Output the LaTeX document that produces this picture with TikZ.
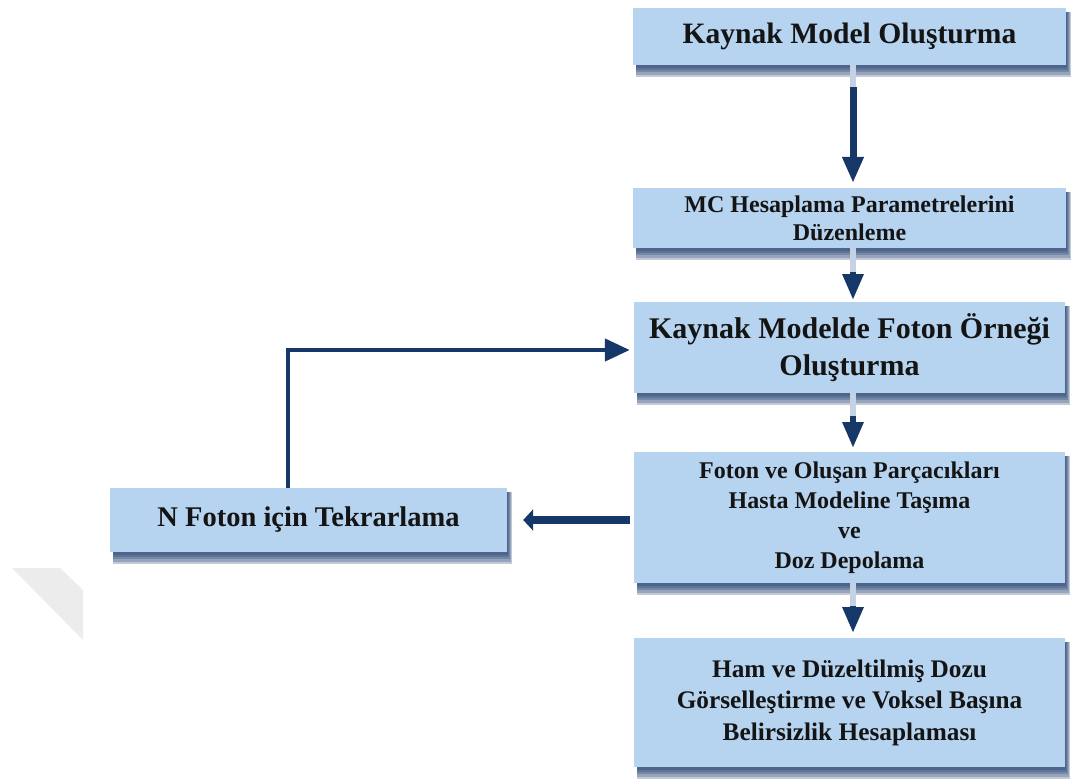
\documentclass[tikz,border=0pt]{standalone}
\usepackage{fontspec}
\setmainfont{Liberation Serif}
\usetikzlibrary{arrows.meta,backgrounds}
\definecolor{boxfill}{RGB}{182,212,240}
\definecolor{navy}{RGB}{22,56,104}
\definecolor{shadowcol}{RGB}{30,60,110}
\definecolor{paleline}{RGB}{196,210,228}
\definecolor{wmark}{RGB}{236,236,236}
\tikzset{
  stepbox/.style={fill=boxfill, draw=none, inner sep=0pt, align=center,
    text=black!92},
  fsz/.style 2 args={font=\bfseries\fontsize{#1}{#2}\selectfont},
  flowarrow/.style={draw=navy, line width=7pt,
    -{Triangle[width=20pt,length=26pt]}},
  paleshaft/.style={draw=paleline, line width=6pt},
  loopline/.style={draw=navy, line width=4.5pt},
}
\begin{document}
\begin{tikzpicture}[x=1pt,y=-1pt]
\useasboundingbox (0,0) rectangle (1072,781);
% watermark shape
\fill[wmark] (12,568) -- (60,568) -- (83,590) -- (83,640) -- cycle;

\node[stepbox, fsz={29.6}{35}, minimum width=433pt, minimum height=57pt] (b1) at (849.5,36.5)
  {Kaynak Model Oluşturma};
\node[stepbox, fsz={24}{28}, minimum width=433pt, minimum height=60pt] (b2) at (849.5,218)
  {MC Hesaplama Parametrelerini\\Düzenleme};
\node[stepbox, fsz={30}{37}, minimum width=431pt, minimum height=91pt] (b3) at (849.5,347.5)
  {Kaynak Modelde Foton Örneği\\Oluşturma};
\node[stepbox, fsz={24}{30}, minimum width=431pt, minimum height=131pt] (b4) at (849.5,517.5)
  {Foton ve Oluşan Parçacıkları\\Hasta Modeline Taşıma\\ve\\Doz Depolama};
\node[stepbox, fsz={25.3}{31.5}, minimum width=431pt, minimum height=129pt] (b5) at (849.5,702.5)
  {Ham ve Düzeltilmiş Dozu\\Görselleştirme ve Voksel Başına\\Belirsizlik Hesaplaması};
\node[stepbox, fsz={28.5}{34}, minimum width=397pt, minimum height=64pt] (bl) at (308.5,520)
  {N Foton için Tekrarlama};

% shadows
\begin{scope}[on background layer]
\foreach \n in {b1,b2,b3,b4,b5,bl}{
  \foreach \k in {1,...,5}{
    \fill[shadowcol, opacity=0.27]
      ([xshift=3pt,yshift=-4pt]\n.north west) rectangle
      ([xshift=\k pt, yshift=-2.4*\k pt]\n.south east);
  }
}
\end{scope}

% coordinates for arrow heads
\coordinate (a1s) at (853,87);
\coordinate (a2s) at (853,272);
\coordinate (a3s) at (853,416);
\coordinate (a4s) at (853,606);
\coordinate (a1e) at (853,183);
\coordinate (a2e) at (853,300);
\coordinate (a3e) at (853,448);
\coordinate (a4e) at (853,633);

% pale shafts
\draw[paleshaft] (b1.south -| a1s) -- (a1s);
\draw[paleshaft] (b2.south -| a2s) -- (a2s);
\draw[paleshaft] (b3.south -| a3s) -- (a3s);
\draw[paleshaft] (b4.south -| a4s) -- (a4s);

% dark arrows
\draw[flowarrow] (a1s) -- (a1e);
\draw[flowarrow, line width=6pt] (a2s) -- (a2e);
\draw[flowarrow, line width=6pt] (a3s) -- (a3e);
\draw[flowarrow, line width=6pt] (a4s) -- (a4e);

% loop arrow
\coordinate (lp) at (288,350);
\draw[loopline, -{Triangle[width=22pt,length=25pt]}]
  (bl.north -| lp) -- (lp) -- ([xshift=-4pt]b3.west |- lp);

% left arrow
\draw[draw=navy, line width=8pt, -{Triangle[width=21pt,length=10pt]}]
  ([xshift=-4pt]b4.west |- bl.east) -- ([xshift=16pt]bl.east);
\end{tikzpicture}
\end{document}
